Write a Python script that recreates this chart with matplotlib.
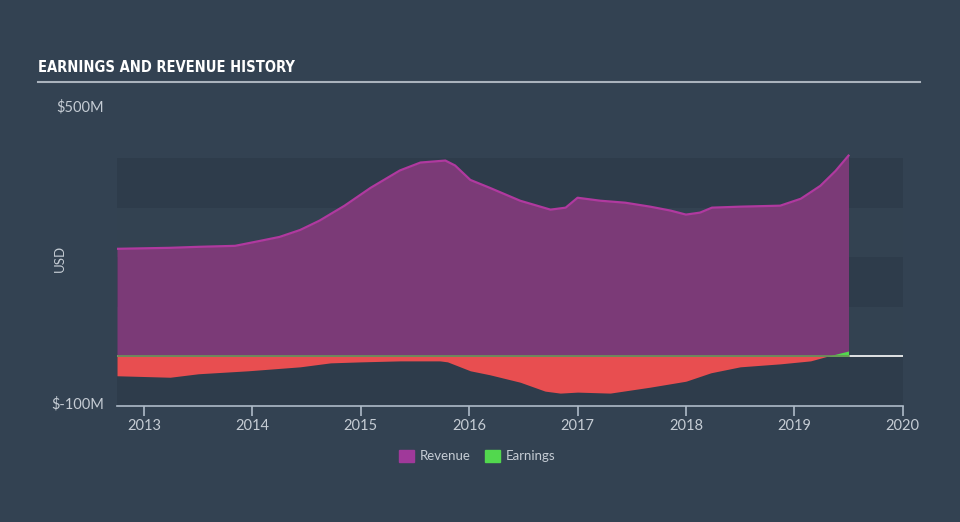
import matplotlib
matplotlib.use("Agg")
import matplotlib.pyplot as plt
import numpy as np
from matplotlib import font_manager
from matplotlib.patches import Rectangle

# ---- data ----
rev_x = [2012.75, 2013.24, 2013.5, 2013.84, 2014.07, 2014.25, 2014.44, 2014.62, 2014.85,
         2015.09, 2015.36, 2015.55, 2015.78, 2015.87, 2016.01, 2016.19, 2016.47, 2016.75,
         2016.89, 2017.0, 2017.21, 2017.44, 2017.67, 2017.86, 2018.0, 2018.13, 2018.24,
         2018.5, 2018.87, 2019.06, 2019.24, 2019.38, 2019.5]
revenue = [217, 219, 221, 223, 233, 241, 255, 274, 304,
           340, 375, 391, 395, 385, 356, 340, 314, 296,
           300, 320, 314, 310, 302, 294, 286, 290, 300,
           302, 304, 318, 344, 374, 405]

earn_x = [2012.75, 2013.24, 2013.5, 2013.96, 2014.44, 2014.72, 2015.0, 2015.36, 2015.73,
          2015.8, 2016.01, 2016.19, 2016.47, 2016.7, 2016.84, 2017.0, 2017.3, 2017.67,
          2018.0, 2018.23, 2018.5, 2018.87, 2019.15, 2019.3, 2019.5]
earnings = [-39, -42, -35, -29, -21, -13, -11, -9, -9,
            -11, -29, -37, -52, -70, -74, -72, -74, -62,
            -50, -33, -21, -15, -9, 0, 11]

xticks = [2013, 2014, 2015, 2016, 2017, 2018, 2019, 2020]
ylabels = ["$-100M", "$500M"]

# ---- style ----
BG = "#334252"
BAND_DARK = "#2e3c4b"
BAND_LIGHT = "#334251"
TXT = "#c5ccd4"

title_fp = None
for f in font_manager.fontManager.ttflist:
    if "Condensed" in f.fname and "Bold" in f.fname and "DejaVuSans" in f.fname.replace(" ", ""):
        title_fp = font_manager.FontProperties(fname=f.fname, size=10.5)
        break
if title_fp is None:
    title_fp = font_manager.FontProperties(family="DejaVu Sans", weight="bold", stretch="condensed", size=10.5)

fig = plt.figure(figsize=(9.6, 5.22), dpi=100)
fig.patch.set_facecolor(BG)
ax = fig.add_axes([117/960, 116/522, (902.7-117)/960, 297.5/522])
ax.set_facecolor("none")
ax.set_xlim(2012.75, 2020)
ax.set_ylim(-100, 500)

for i, lo in enumerate(range(-100, 400, 100)):
    col = BAND_DARK if (i % 2 == 0) else BAND_LIGHT
    ax.axhspan(lo, lo + 100, color=col, lw=0, zorder=0)

ax.axhline(0, color="white", lw=1.2, zorder=1)

rx = np.array(rev_x); rv = np.array(revenue)
ax.fill_between(rx, 0, rv, color="#7b3a77", lw=0, zorder=2)
ax.plot(rx, rv, color="#b0399f", lw=1.6, zorder=3)

ex = np.array(earn_x); ev = np.array(earnings)
fx = np.linspace(ex[0], ex[-1], 800)
fv = np.interp(fx, ex, ev)
ax.fill_between(fx, 0, fv, where=fv <= 0, color="#e84e50", lw=0, zorder=2, interpolate=True)
ax.fill_between(fx, 0, fv, where=fv >= 0, color="#52d84e", lw=0, zorder=2, interpolate=True)
ax.plot([ex[0], ex[-1]], [0, 0], color="#6a9656", lw=1.2, zorder=3)

for s in ["top", "right", "left"]:
    ax.spines[s].set_visible(False)
ax.spines["bottom"].set_color("#aebbc8")
ax.spines["bottom"].set_linewidth(1.2)
ax.set_xticks(xticks)
ax.set_xticklabels([str(t) for t in xticks])
ax.tick_params(axis="x", colors="#aebbc8", length=7, width=1.2, labelcolor=TXT, labelsize=10.5, pad=2)
for lab in ax.get_xticklabels():
    lab.set_fontfamily("Lato")
ax.set_yticks([])

fig.text(104/960, 1 - 107/522, ylabels[1], ha="right", va="center", color=TXT, fontsize=10.5, family="Lato")
fig.text(104/960, 1 - 404/522, ylabels[0], ha="right", va="center", color=TXT, fontsize=10.5, family="Lato")
fig.text(60/960, 1 - 258/522, "USD", ha="center", va="center", rotation=90, color=TXT, fontsize=9.5, family="Lato")

fig.text(38/960, 1 - 68/522, "EARNINGS AND REVENUE HISTORY", ha="left", va="center", color="white",
         fontproperties=title_fp)
fig.add_artist(plt.Line2D([38/960, 920/960], [1 - 82/522, 1 - 82/522], color="#aab3bd", lw=1.5))

fig.add_artist(Rectangle((399/960, 1 - 462/522), 15/960, 12/522, color="#a0399a", transform=fig.transFigure))
fig.text(420/960, 1 - 456/522, "Revenue", ha="left", va="center", color=TXT, fontsize=9.5, family="Lato")
fig.add_artist(Rectangle((485/960, 1 - 462/522), 15/960, 12/522, color="#52d84e", transform=fig.transFigure))
fig.text(506/960, 1 - 456/522, "Earnings", ha="left", va="center", color=TXT, fontsize=9.5, family="Lato")

fig.savefig("out.png", dpi=100, facecolor=BG)
